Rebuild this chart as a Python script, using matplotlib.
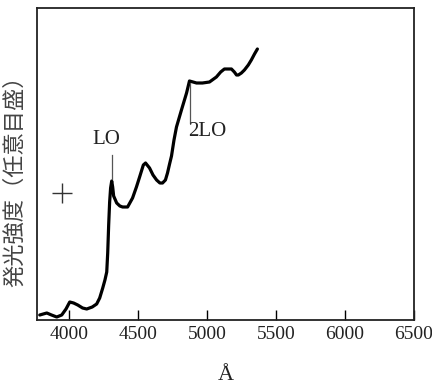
import matplotlib
matplotlib.use("Agg")
import matplotlib.pyplot as plt

# Spectrum (wavelength in Å, intensity in arbitrary units)
wavelength = [3790, 3815, 3841, 3875, 3913, 3949, 3980, 4007, 4035, 4065, 4100, 4130,
              4170, 4202, 4224, 4246, 4262, 4275, 4282, 4289, 4296, 4303, 4311, 4318,
              4325, 4347, 4370, 4390, 4426, 4462, 4490, 4513, 4540, 4556, 4585, 4610,
              4636, 4660, 4679, 4700, 4715, 4730, 4744, 4762, 4780, 4816, 4853, 4874,
              4900, 4925, 4968, 5019, 5069, 5100, 5127, 5155, 5178, 5199, 5215, 5228,
              5250, 5272, 5300, 5322, 5345, 5366]
intensity = [5, 6, 7, 5, 3, 5, 11, 18, 17, 15, 12, 11,
             13, 16, 22, 32, 40, 48, 67, 95, 118, 132, 139, 133,
             124, 117, 114, 113, 113, 122, 133, 143, 155, 157, 152, 145,
             140, 137, 137, 140, 147, 156, 164, 180, 193, 210, 227, 239,
             238, 237, 237, 238, 243, 248, 251, 251, 251, 248, 245, 245,
             247, 250, 255, 260, 266, 271]

xticks = [4000, 4500, 5000, 5500, 6000, 6500]
xlim = (3770, 6500)
ylim = (0, 312)

lo_label = "LO"
lo_wavelength = 4311
lo_line = (141, 165)
two_lo_label = "2LO"
two_lo_wavelength = 4881
two_lo_line = (197, 237)

plt.rcParams['font.family'] = ['Liberation Serif', 'DejaVu Serif']

fig = plt.figure(figsize=(4.32, 3.86), dpi=100)
ax = fig.add_axes([37/432, 66/386, (414-37)/432, (320-8)/386])

ax.plot(wavelength, intensity, color='black', lw=2.3, solid_capstyle='round',
        solid_joinstyle='round')

# annotation lines
ax.plot([lo_wavelength, lo_wavelength], lo_line, color='#555555', lw=0.9)
ax.plot([two_lo_wavelength, two_lo_wavelength], two_lo_line, color='#555555', lw=0.9)
ax.text(4275, 180, lo_label, ha='center', va='center', fontsize=15, color='#222222')
ax.text(5000, 188, two_lo_label, ha='center', va='center', fontsize=15, color='#222222')
ax.plot([3949], [127], marker='+', markersize=14, mew=1.0, color='#333333')

ax.set_xlim(*xlim)
ax.set_ylim(*ylim)
ax.set_xticks(xticks)
ax.set_xticklabels([str(t) for t in xticks], fontsize=14, color='#222222')
ax.set_yticks([])
ax.tick_params(axis='x', direction='in', length=7, width=1.0, pad=4)
for s in ax.spines.values():
    s.set_linewidth(1.3)
    s.set_color('#222222')

ax.set_xlabel("Å", fontsize=16, color='#222222', labelpad=17)
fig.text(15/432, 1 - 176/386, "発光強度（任意目盛）", rotation=90, ha='center', va='center',
         fontsize=16, color='#444444', family=['Noto Sans CJK JP', 'DejaVu Sans'])

fig.savefig("out.png", dpi=100)
